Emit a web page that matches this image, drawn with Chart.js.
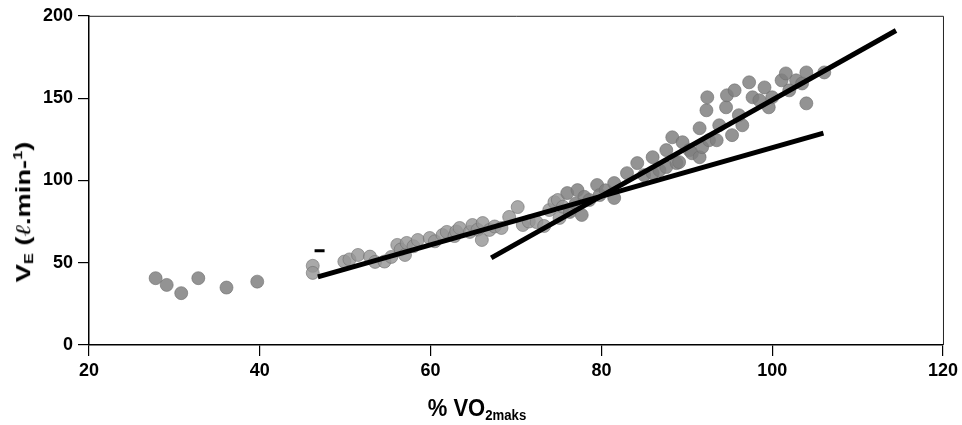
<!DOCTYPE html>
<html>
<head>
<meta charset="utf-8">
<script src="https://cdn.jsdelivr.net/npm/chart.js@4.4.0/dist/chart.umd.min.js"></script>
<style>
  html, body { margin: 0; padding: 0; background: #fff; }
  #wrap { position: relative; width: 962px; height: 425px; font-family: "Liberation Sans", Arial, sans-serif; font-weight: bold; color: #000; }
  #wrap canvas { position: absolute; left: 0; top: 0; }
  .ttl { position: absolute; white-space: nowrap; line-height: 1; }
  #yTitle { left: 24px; top: 212px; font-size: 21px; transform: translate(-50%, -50%) rotate(-90deg) scaleX(1.3); }
  #xTitle { left: 477px; top: 409px; font-size: 22px; transform: translate(-50%, -50%) scaleY(1.1); }
  .ttl sub { font-size: 60%; vertical-align: -0.25em; }
  .ttl sup { font-size: 60%; vertical-align: 0.6em; }
  .ell { font-weight: normal; font-style: italic; font-family: "DejaVu Serif", serif; }
</style>
</head>
<body>
<div id="wrap">
  <canvas id="chart" width="962" height="425"></canvas>
  <div class="ttl" id="yTitle">V<sub>E</sub> (<span class="ell">ℓ</span>.min-<sup>1</sup>)</div>
  <div class="ttl" id="xTitle">% VO<sub>2maks</sub></div>
</div>
<script>
// --- data ---
const xTicks = [20, 40, 60, 80, 100, 120];
const yTicks = [0, 50, 100, 150, 200];

// % VO2maks / VE (l.min-1)
const vo2Pct = [
  27.8, 29.1, 30.8, 32.8, 36.1, 39.7, 46.2, 46.2,
  49.9, 50.5, 51.5, 52.9, 53.5, 54.6, 55.4, 56.1, 56.5, 57.0, 57.2, 58.0, 58.5, 59.9, 60.5, 61.4,
  61.9, 62.8, 63.0, 63.4, 64.6, 64.9, 65.5, 66.0, 66.1, 66.9, 67.5, 68.3, 69.2, 70.2, 70.8, 71.5, 72.4, 73.3, 73.9, 74.5,
  74.9, 75.1, 75.5, 76.0, 76.3, 77.0, 77.2, 77.7, 78.0, 78.6, 79.5, 79.8, 80.5, 81.5, 81.5, 83.0, 84.2, 85.0, 86.0, 86.0, 86.8, 87.6, 87.6,
  88.3, 88.8, 89.1, 89.5, 90.3, 90.6, 91.5, 91.5, 91.8, 92.3, 92.4, 92.6, 93.5, 93.8, 94.6, 94.7,
  95.3, 95.6, 96.1, 96.5, 97.3, 97.7, 98.5, 99.1, 99.6, 100.0, 101.1, 101.6, 102.0, 102.8, 103.5, 104.0, 104.0, 106.1
];
const veLmin = [
  40.6, 36.5, 31.5, 40.6, 34.9, 38.5, 48.1, 43.8,
  50.7, 52.0, 54.7, 53.7, 50.5, 50.7, 53.5, 60.8, 58.0, 54.7, 62.0, 60.0, 63.8, 65.0, 63.0, 66.8,
  68.7, 66.2, 69.0, 71.1, 68.7, 72.9, 70.0, 63.8, 74.1, 69.9, 72.0, 71.1, 77.8, 83.8, 72.9, 75.0, 74.7, 72.3, 82.0, 86.8,
  88.1, 77.2, 84.0, 92.3, 80.8, 86.0, 94.1, 79.0, 90.0, 88.1, 97.2, 91.1, 94.0, 98.4, 89.3, 104.4, 110.5, 103.2, 104.4, 114.1, 106.2, 108.1, 118.4,
  126.2, 110.5, 111.1, 123.2, 118.4, 116.5, 131.7, 114.1, 120.2, 142.6, 150.5, 124.4, 124.4, 133.5, 144.4, 151.7,
  127.5, 154.7, 139.6, 133.5, 159.6, 150.5, 148.7, 156.5, 144.4, 150.5, 160.8, 165.0, 154.7, 160.8, 158.9, 165.6, 146.8, 165.6
];

// regression lines (end points)
const shallowX = [46.8, 106.0];
const shallowY = [41.4, 128.7];
const steepX = [67.1, 114.5];
const steepY = [52.9, 191.1];

// small dash mark
const dashX = [47.0];
const dashY = [57.2];

const pts = (xs, ys) => xs.map((x, i) => ({ x: x, y: ys[i] }));

// thin frame on top / right
const framePlugin = {
  id: 'frame',
  afterDraw(chart) {
    const a = chart.chartArea, ctx = chart.ctx;
    ctx.save();
    ctx.strokeStyle = '#222';
    ctx.lineWidth = 1;
    ctx.beginPath();
    ctx.moveTo(a.left, a.top + 0.5);
    ctx.lineTo(a.right + 0.5, a.top + 0.5);
    ctx.lineTo(a.right + 0.5, a.bottom);
    ctx.stroke();
    ctx.restore();
  }
};

const tickFont = { family: '"Liberation Sans", Arial, sans-serif', size: 18, weight: 'bold' };

// lighter dots in the lower part of the cloud, darker higher up
const dotColor = (ctx) => {
  const p = ctx.raw;
  if (!p) return 'rgba(130,130,130,0.85)';
  return (p.x > 46 && p.x < 76) ? 'rgba(150,150,150,0.82)' : 'rgba(128,128,128,0.85)';
};

new Chart(document.getElementById('chart'), {
  type: 'scatter',
  data: {
    datasets: [
      {
        type: 'line', data: pts(shallowX, shallowY), order: 0,
        borderColor: '#000', borderWidth: 5, pointRadius: 0, borderCapStyle: 'butt', fill: false
      },
      {
        type: 'line', data: pts(steepX, steepY), order: 0,
        borderColor: '#000', borderWidth: 5, pointRadius: 0, borderCapStyle: 'butt', fill: false
      },
      {
        data: pts(dashX, dashY), order: 0,
        pointStyle: 'line', pointRadius: 5, borderColor: '#000', borderWidth: 3
      },
      {
        data: pts(vo2Pct, veLmin), order: 1,
        pointRadius: 6.5, backgroundColor: dotColor,
        borderColor: 'rgba(110,110,110,0.6)', borderWidth: 1
      }
    ]
  },
  options: {
    responsive: false,
    animation: false,
    layout: { padding: { left: 0, top: 15, right: 17, bottom: 0 } },
    plugins: { legend: { display: false }, tooltip: { enabled: false } },
    scales: {
      x: {
        type: 'linear', min: 20, max: 120,
        afterBuildTicks: (s) => { s.ticks = xTicks.map(v => ({ value: v })); },
        afterFit: (s) => { s.height = 80; },
        grid: { display: true, drawOnChartArea: false, drawTicks: true, tickLength: 11, color: '#000', lineWidth: 1.2 },
        border: { display: true, color: '#000', width: 1.5 },
        ticks: { color: '#000', font: tickFont, padding: 4, maxRotation: 0 }
      },
      y: {
        type: 'linear', min: 0, max: 200,
        afterBuildTicks: (s) => { s.ticks = yTicks.map(v => ({ value: v })); },
        afterFit: (s) => { s.width = 89; },
        grid: { display: true, drawOnChartArea: false, drawTicks: true, tickLength: 11, color: '#000', lineWidth: 1.2 },
        border: { display: true, color: '#000', width: 1.5 },
        ticks: { color: '#000', font: tickFont, padding: 5 }
      }
    }
  },
  plugins: [framePlugin]
});
</script>
</body>
</html>
